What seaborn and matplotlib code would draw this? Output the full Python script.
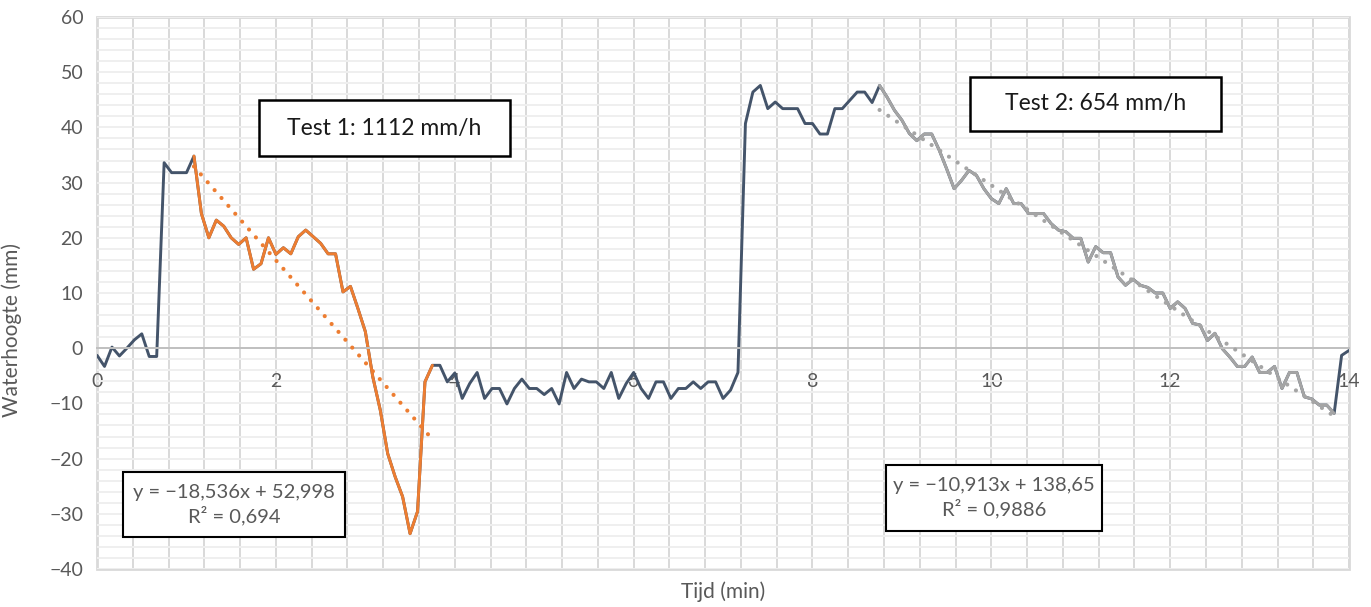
import numpy as np
import pandas as pd
import seaborn as sns
import matplotlib.pyplot as plt
from matplotlib.patches import Rectangle

# water height (mm), one reading every 5 seconds, split into the parts of the run
aanloop = [-1.3, -3.3, 0.2, -1.4, 0.0, 1.5, 2.6, -1.5, -1.5, 33.6, 31.8, 31.8, 31.8]
test1 = [34.8, 24.4, 20.0, 23.2, 22.1, 20.0, 18.8, 20.0, 14.3, 15.3, 20.0, 17.0,
         18.2, 17.1, 20.2, 21.4, 20.2, 19.0, 17.1, 17.1, 10.2, 11.2, 7.2, 3.0,
         -5.2, -11.2, -19.1, -23.3, -26.9, -33.6, -29.6, -6.1, -3.1]
tussen = [-3.1, -6.1, -4.5, -9.1, -6.4, -4.4, -9.1, -7.3, -7.3, -10.1, -7.3, -5.6,
          -7.3, -7.3, -8.4, -7.3, -10.1, -4.4, -7.3, -5.6, -6.1, -6.1, -7.3, -4.4,
          -9.1, -6.4, -4.4, -7.3, -9.1, -6.1, -6.1, -9.1, -7.3, -7.3, -6.1, -7.3,
          -6.1, -6.1, -9.1, -7.6, -4.4]
vullen = [40.7, 46.4, 47.6, 43.4, 44.6, 43.4, 43.4, 43.4, 40.7, 40.7, 38.8, 38.8,
          43.4, 43.4, 44.9, 46.4, 46.4, 44.5]
test2 = [47.6, 45.5, 43.1, 41.3, 38.9, 37.6, 38.8, 38.8, 35.9, 32.5, 28.9, 30.4,
         32.2, 31.3, 28.9, 27.1, 26.2, 28.9, 26.2, 26.2, 24.4, 24.4, 24.4, 22.6,
         21.4, 21.1, 19.9, 19.9, 15.6, 18.4, 17.3, 17.3, 12.9, 11.4, 12.5, 11.4,
         11.0, 10.0, 10.0, 7.2, 8.4, 7.2, 4.5, 4.2, 1.4, 2.7, -0.1, -1.6, -3.3,
         -3.3, -1.6, -4.4, -4.4, -3.3, -7.3, -4.4, -4.4, -8.8, -9.2, -10.3, -10.3,
         -11.8]
einde = [-1.3, -0.4]

# linear trendlines as given in the chart (x in minutes)
trend1 = (-18.536, 52.998)
trend2 = (-10.913, 138.65)
labels_test = ["Test 1: 1112 mm/h", "Test 2: 654 mm/h"]
labels_trend = ["y = −18,536x + 52,998\nR² = 0,694", "y = −10,913x + 138,65\nR² = 0,9886"]

hoogte = aanloop + test1 + tussen + vullen + test2 + einde
df = pd.DataFrame({"tijd": np.arange(len(hoogte)) * 5 / 60, "hoogte": hoogte})

s1 = len(aanloop)
seg1 = df.iloc[s1:s1 + len(test1)]
s2 = s1 + len(test1) + len(tussen) + len(vullen)
seg2 = df.iloc[s2:s2 + len(test2)]

sns.set_theme(style="white")
plt.rcParams["font.family"] = ["Lato", "DejaVu Sans"]

fig, ax = plt.subplots(figsize=(13.71, 6.07), dpi=100)
fig.subplots_adjust(left=0.0708, right=0.984, bottom=0.0626, top=0.972)

dark, orange, grey = "#44546A", "#ED7D31", "#A5A5A5"
sns.lineplot(data=df, x="tijd", y="hoogte", color=dark, lw=2.1, ax=ax)
sns.lineplot(data=seg1, x="tijd", y="hoogte", color=orange, lw=2.1, ax=ax)
sns.lineplot(data=seg2, x="tijd", y="hoogte", color=grey, lw=2.1, ax=ax)

for seg, (a, b), c in [(seg1, trend1, orange), (seg2, trend2, grey)]:
    ax.plot(seg["tijd"], a * seg["tijd"] + b, color=c, lw=3.0,
            linestyle=(0, (0.01, 2.5)), dash_capstyle="round", zorder=3)

ax.set_xlim(0, 14)
ax.set_ylim(-40, 60)
ax.set_xticks(np.arange(0, 15, 2))
ax.set_xticks(np.arange(0, 14.01, 0.4), minor=True)
ax.set_yticks(np.arange(-40, 61, 10))
ax.set_yticks(np.arange(-40, 61, 2), minor=True)
ax.grid(which="both", axis="x", color="#d9d9d9", lw=1.4)
ax.grid(which="both", axis="y", color="#efefef", lw=1.4)
ax.set_axisbelow(True)
ax.tick_params(which="both", length=0)
ax.tick_params(axis="x", pad=18, labelsize=14, labelcolor="#595959")
ax.tick_params(axis="y", pad=10, labelsize=14, labelcolor="#595959")

for side in ["left", "top", "right"]:
    ax.spines[side].set_visible(False)
ax.spines["bottom"].set_position(("data", 0))
ax.spines["bottom"].set_color("#bfbfbf")
ax.spines["bottom"].set_linewidth(1.4)
ax.add_patch(Rectangle((0, 0), 1, 1, transform=ax.transAxes, fill=False,
                       ec="#d9d9d9", lw=2, clip_on=False, zorder=0.4))

ax.set_xlabel("Tijd (min)", fontsize=15, color="#595959")
ax.set_ylabel("Waterhoogte (mm)", fontsize=15, color="#595959")
ax.xaxis.set_label_coords(0.5, -0.022)
ax.yaxis.set_label_coords(-0.06, 0.433)

# text boxes (axes fractions)
boxes = [(0.1294, 0.748, 0.2005, 0.1016), (0.6973, 0.7935, 0.2005, 0.0978)]
for (x0, y0, w, h), txt in zip(boxes, labels_test):
    ax.add_patch(Rectangle((x0, y0), w, h, transform=ax.transAxes, fc="white",
                           ec="black", lw=1.8, zorder=5))
    ax.text(x0 + w / 2, y0 + h / 2, txt, transform=ax.transAxes, ha="center",
            va="center", fontsize=16.5, color="#1a1a1a", zorder=6)

eq_boxes = [(0.0208, 0.058, 0.1773, 0.1177), (0.630, 0.0688, 0.1727, 0.1196)]
for (x0, y0, w, h), txt in zip(eq_boxes, labels_trend):
    ax.add_patch(Rectangle((x0, y0), w, h, transform=ax.transAxes, fc="white",
                           ec="black", lw=1.5, zorder=5))
    ax.text(x0 + w / 2, y0 + h / 2, txt, transform=ax.transAxes, ha="center",
            va="center", fontsize=14.5, color="#595959", linespacing=1.3, zorder=6)

fig.savefig("out.png", dpi=100)
